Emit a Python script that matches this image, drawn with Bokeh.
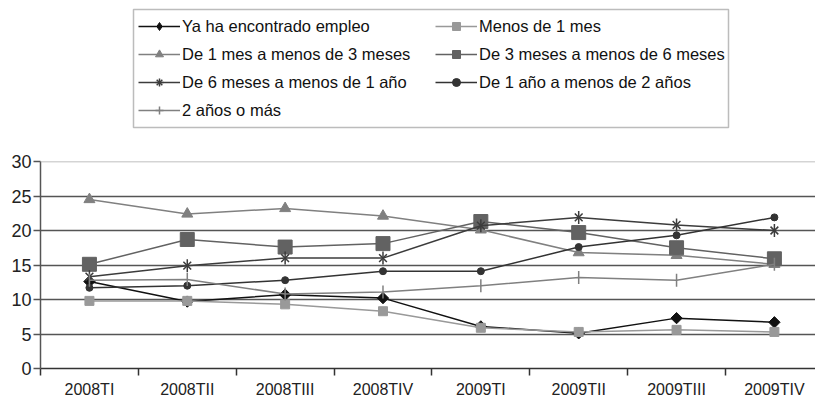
import math
from bokeh.plotting import figure
from bokeh.layouts import column
from bokeh.models import Range1d, FixedTicker, Legend, LegendItem, Span, BoxAnnotation
from bokeh.embed import file_html
from bokeh.resources import INLINE

categories = ["2008TI", "2008TII", "2008TIII", "2008TIV", "2009TI", "2009TII", "2009TIII", "2009TIV"]
ya_ha = [12.6, 9.7, 10.7, 10.2, 6.1, 5.1, 7.3, 6.7]
menos_1 = [9.8, 9.8, 9.3, 8.3, 5.9, 5.3, 5.6, 5.3]
de1a3 = [24.5, 22.4, 23.2, 22.1, 20.1, 16.8, 16.4, 15.1]
de3a6 = [15.1, 18.7, 17.6, 18.1, 21.3, 19.7, 17.5, 15.9]
de6a12 = [13.3, 14.9, 16.0, 16.0, 20.7, 21.9, 20.8, 20.0]
de1a2 = [11.7, 12.0, 12.8, 14.1, 14.1, 17.6, 19.3, 21.9]
dos_mas = [12.8, 12.9, 10.8, 11.1, 12.0, 13.2, 12.8, 15.1]
y_ticks = [0, 5, 10, 15, 20, 25, 30]

labels = ["Ya ha encontrado empleo", "Menos de 1 mes", "De 1 mes a menos de 3 meses",
          "De 3 meses a menos de 6 meses", "De 6 meses a menos de 1 año",
          "De 1 año a menos de 2 años", "2 años o más"]

xs = [i + 0.5 for i in range(len(categories))]
font = "Liberation Sans"

# (values, color, plot markers, legend markers) ; marker spec = (marker, size, angle, filled)
styles = [
    (ya_ha, "#111111", [("square", 8, math.pi / 4, True)], [("diamond", 12, 0, True)]),
    (menos_1, "#999999", [("square", 9, 0, True)], [("square", 8, 0, True)]),
    (de1a3, "#808080", [("triangle", 11, 0, True)], [("triangle", 11, 0, True)]),
    (de3a6, "#626262", [("square", 14, 0, True)], [("square", 13, 0, True)]),
    (de6a12, "#3c3c3c", [("x", 11, 0, False), ("dash", 13, math.pi / 2, False)],
     [("x", 10, 0, False), ("cross", 12, 0, False)]),
    (de1a2, "#333333", [("circle", 7, 0, True)], [("circle", 7, 0, True)]),
    (dos_mas, "#808080", [("dash", 13, math.pi / 2, False)], [("cross", 12, 0, False)]),
]


def draw(fig, data_x, vals, color, markers):
    rs = [fig.line(data_x, vals, line_color=color, line_width=1.5)]
    for marker, size, angle, filled in markers:
        if filled:
            rs.append(fig.scatter(data_x, vals, marker=marker, size=size, angle=angle,
                                  fill_color=color, line_color=color))
        else:
            rs.append(fig.scatter(data_x, vals, marker=marker, size=size, angle=angle,
                                  line_color=color, line_width=1.5))
    return rs


# legend figure: ranges map 1:1 to pixels (frame is aligned with the chart's frame)
lf = figure(width=815, height=146, output_backend="svg", toolbar_location=None,
            x_range=Range1d(40, 815), y_range=Range1d(146, 0),
            x_axis_location=None, y_axis_location=None,
            min_border_left=0, min_border_right=0, min_border_top=0, min_border_bottom=0)
lf.grid.visible = False
lf.outline_line_color = None
lf.add_layout(BoxAnnotation(left=133, right=728, top=9, bottom=127,
                            fill_color="white", fill_alpha=1,
                            line_color="#222222", line_width=1.5))
items = []
for label, (vals, color, _m, lmarkers) in zip(labels, styles):
    rs = draw(lf, [-10, -9], [-10, -10], color, lmarkers)
    items.append(LegendItem(label=label, renderers=rs))

common = dict(orientation="vertical", label_text_font=font, label_text_font_size="16.5px",
              label_text_color="#111111", glyph_width=42, glyph_height=20, label_standoff=2,
              spacing=8, label_height=20, padding=0, margin=0,
              border_line_color=None, background_fill_alpha=0)
leg_a = Legend(items=items[0::2], location=(98, 26), **common)
leg_b = Legend(items=items[1::2], location=(395, 54), **common)
lf.add_layout(leg_a, "center")
lf.add_layout(leg_b, "center")

# main chart
p = figure(width=815, height=254, output_backend="svg", toolbar_location=None,
           x_range=Range1d(0, 7.92), y_range=Range1d(0, 30),
           min_border_left=40, min_border_right=0, min_border_top=15, min_border_bottom=30)
p.outline_line_color = None
p.xgrid.grid_line_color = None
p.ygrid.ticker = FixedTicker(ticks=[5, 10, 15, 20, 25])
p.ygrid.grid_line_color = "#555555"
p.ygrid.grid_line_width = 1.5
p.add_layout(Span(location=30, dimension="width", line_color="#aaaaaa", line_width=1.5))

p.yaxis.ticker = FixedTicker(ticks=y_ticks)
p.yaxis.axis_line_color = "#555555"
p.yaxis.axis_line_width = 1.5
p.yaxis.major_tick_line_color = "#555555"
p.yaxis.major_tick_line_width = 1.5
p.yaxis.major_tick_in = 0
p.yaxis.major_tick_out = 7
p.yaxis.minor_tick_line_color = None
p.yaxis.major_label_text_font = font
p.yaxis.major_label_text_font_size = "18px"
p.yaxis.major_label_text_color = "#222222"
p.yaxis.major_label_standoff = 2

p.xaxis.ticker = FixedTicker(ticks=xs, minor_ticks=list(range(0, 8)))
p.xaxis.major_label_overrides = {x: c for x, c in zip(xs, categories)}
p.xaxis.major_tick_line_color = None
p.xaxis.minor_tick_line_color = "#333333"
p.xaxis.minor_tick_line_width = 1.5
p.xaxis.minor_tick_in = 0
p.xaxis.minor_tick_out = 7
p.xaxis.axis_line_color = "#333333"
p.xaxis.axis_line_width = 1.5
p.xaxis.major_label_text_font = font
p.xaxis.major_label_text_font_size = "16px"
p.xaxis.major_label_text_color = "#222222"
p.xaxis.major_label_standoff = 5

for vals, color, markers, _l in styles:
    draw(p, xs, vals, color, markers)

open("out.html", "w").write(file_html(column(lf, p), INLINE))
